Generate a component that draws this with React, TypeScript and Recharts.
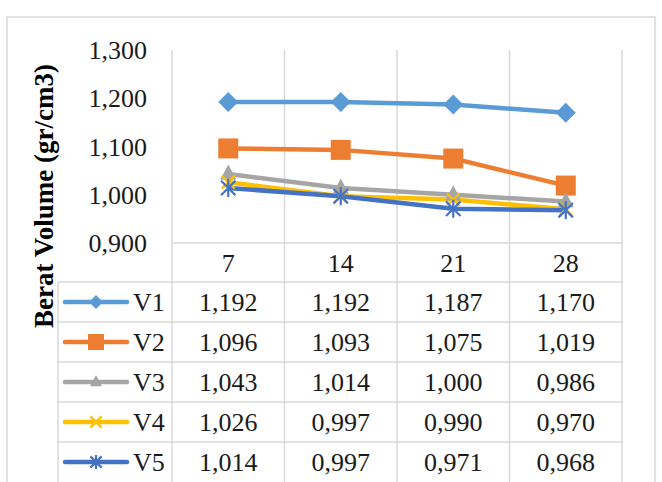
import { LineChart, Line, XAxis, YAxis, ReferenceLine } from "recharts"

const categories = ["7", "14", "21", "28"]
const v1 = [1.192, 1.192, 1.187, 1.17]
const v2 = [1.096, 1.093, 1.075, 1.019]
const v3 = [1.043, 1.014, 1.0, 0.986]
const v4 = [1.026, 0.997, 0.99, 0.97]
const v5 = [1.014, 0.997, 0.971, 0.968]
const yTicks = [0.9, 1.0, 1.1, 1.2, 1.3]

const SERIES = [
  { key: "V1", values: v1, color: "#5B9BD5", marker: "diamond" },
  { key: "V2", values: v2, color: "#ED7D31", marker: "square" },
  { key: "V3", values: v3, color: "#A5A5A5", marker: "triangle" },
  { key: "V4", values: v4, color: "#FFC000", marker: "x" },
  { key: "V5", values: v5, color: "#4472C4", marker: "star" },
]

const W = 662
const H = 482
const PLOT_LEFT = 172
const PLOT_RIGHT = 622
const PLOT_TOP = 50
const PLOT_BOTTOM = 243
const ROW_H = 40
const LEGEND_LEFT = 58
const GRID = "#D9D9D9"
const FONT = "'Liberation Serif', 'Times New Roman', serif"

const fmt = (v: number) => v.toFixed(3).replace(".", ",")

const data = categories.map((day, i) => {
  const row: Record<string, number | string> = { pos: i + 0.5, day }
  SERIES.forEach((s) => (row[s.key] = s.values[i]))
  return row
})

function Marker({ kind, cx, cy, s, color }: { kind: string; cx: number; cy: number; s: number; color: string }) {
  if (kind === "diamond")
    return <path d={`M${cx},${cy - s} L${cx + s},${cy} L${cx},${cy + s} L${cx - s},${cy} Z`} fill={color} />
  if (kind === "square") return <rect x={cx - s} y={cy - s} width={s * 2} height={s * 2} fill={color} />
  if (kind === "triangle")
    return <path d={`M${cx},${cy - s} L${cx + s * 0.85},${cy + s * 0.6} L${cx - s * 0.85},${cy + s * 0.6} Z`} fill={color} />
  const d = s * 0.8
  return (
    <g stroke={color} strokeWidth={2.2}>
      <line x1={cx - d} y1={cy - d} x2={cx + d} y2={cy + d} />
      <line x1={cx - d} y1={cy + d} x2={cx + d} y2={cy - d} />
      {kind === "star" && <line x1={cx} y1={cy - s} x2={cx} y2={cy + s} />}
    </g>
  )
}

const PLOT_SIZE: Record<string, number> = { diamond: 10, square: 10, triangle: 9.5, x: 8, star: 9 }
const LEGEND_SIZE: Record<string, number> = { diamond: 7, square: 8, triangle: 7, x: 7, star: 7 }

function DataTable() {
  const colW = (PLOT_RIGHT - PLOT_LEFT) / categories.length
  const colX = categories.map((_, i) => PLOT_LEFT + i * colW)
  const rowsTop = PLOT_BOTTOM + ROW_H - 1
  return (
    <svg width={W} height={H} style={{ position: "absolute", left: 0, top: 0, pointerEvents: "none" }} fontFamily={FONT}>
      <rect x={7} y={17} width={648} height={480} fill="none" stroke={GRID} strokeWidth={1.5} />
      <text
        x={53}
        y={196}
        transform="rotate(-90, 53, 196)"
        textAnchor="middle"
        fontSize={27}
        fontWeight="bold"
        fill="#000"
      >
        Berat Volume (gr/cm3)
      </text>
      {/* header row */}
      <line x1={PLOT_LEFT} y1={PLOT_BOTTOM} x2={PLOT_RIGHT} y2={PLOT_BOTTOM} stroke={GRID} strokeWidth={1.5} />
      {[...colX, PLOT_RIGHT].map((x, i) => (
        <line key={i} x1={x} y1={PLOT_BOTTOM} x2={x} y2={H} stroke={GRID} strokeWidth={1.5} />
      ))}
      <line x1={LEGEND_LEFT} y1={rowsTop} x2={LEGEND_LEFT} y2={H} stroke={GRID} strokeWidth={1.5} />
      {SERIES.map((_, r) => (
        <line key={r} x1={LEGEND_LEFT} y1={rowsTop + r * ROW_H} x2={PLOT_RIGHT} y2={rowsTop + r * ROW_H} stroke={GRID} strokeWidth={1.5} />
      ))}
      {categories.map((c, i) => (
        <text key={c} x={colX[i] + colW / 2} y={PLOT_BOTTOM + ROW_H / 2 + 9} textAnchor="middle" fontSize={26} fill="#1a1a1a">
          {c}
        </text>
      ))}
      {SERIES.map((s, r) => {
        const cy = rowsTop + r * ROW_H + ROW_H / 2
        return (
          <g key={s.key}>
            <line x1={65} y1={cy} x2={127} y2={cy} stroke={s.color} strokeWidth={4.5} strokeLinecap="round" />
            <Marker kind={s.marker} cx={96} cy={cy} s={LEGEND_SIZE[s.marker]} color={s.color} />
            <text x={133} y={cy + 9} fontSize={26} fill="#1a1a1a">
              {s.key}
            </text>
            {s.values.map((v, i) => (
              <text key={i} x={colX[i] + colW / 2} y={cy + 9} textAnchor="middle" fontSize={26} fill="#1a1a1a">
                {fmt(v)}
              </text>
            ))}
          </g>
        )
      })}
    </svg>
  )
}

export default function App() {
  return (
    <div style={{ position: "absolute", left: 0, top: 0, width: W, height: H, background: "#fff" }}>
      <LineChart
        width={W}
        height={H}
        data={data}
        margin={{ top: PLOT_TOP, right: W - PLOT_RIGHT, bottom: H - PLOT_BOTTOM, left: PLOT_LEFT - 60 }}
      >
        <XAxis dataKey="pos" type="number" domain={[0, categories.length]} hide />
        <YAxis
          domain={[0.9, 1.3]}
          ticks={yTicks}
          width={60}
          tickFormatter={fmt}
          axisLine={false}
          tickLine={false}
          tickSize={0}
          tickMargin={25}
          tick={{ fontSize: 26, fill: "#1a1a1a", fontFamily: FONT }}
        />
        {[...categories.map((_, i) => i), categories.length].map((x) => (
          <ReferenceLine key={x} x={x} stroke={GRID} strokeWidth={1.5} />
        ))}
        {SERIES.map((s) => (
          <Line
            key={s.key}
            dataKey={s.key}
            stroke={s.color}
            strokeWidth={4.5}
            isAnimationActive={false}
            dot={(p: any) => (
              <Marker key={`${s.key}-${p.index}`} kind={s.marker} cx={p.cx} cy={p.cy} s={PLOT_SIZE[s.marker]} color={s.color} />
            )}
            activeDot={false}
          />
        ))}
      </LineChart>
      <DataTable />
    </div>
  )
}
